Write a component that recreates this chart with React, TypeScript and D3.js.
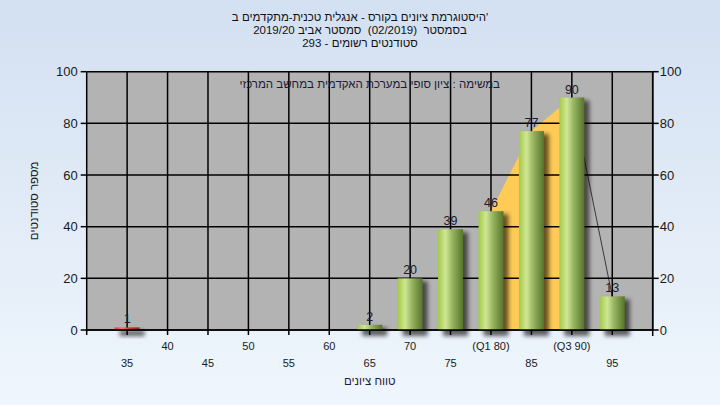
import React from "react";
import * as d3 from "d3";

const categories = [35, 40, 45, 50, 55, 60, 65, 70, 75, 80, 85, 90, 95];
const counts = [1, 0, 0, 0, 0, 0, 2, 20, 39, 46, 77, 90, 13];
const failFlags = [true, false, false, false, false, false, false, false, false, false, false, false, false];
const xTickLabels: Record<number, string> = { 80: "(Q1 80)", 90: "(Q3 90)" };
const yTicks = [0, 20, 40, 60, 80, 100];
const q1 = 80;
const q3 = 90;
const titleLines = [
  "היסטוגרמת ציונים בקורס - אנגלית טכנית-מתקדמים ב'",
  "בסמסטר  (02/2019)  סמסטר אביב 2019/20",
  "סטודנטים רשומים - 293",
];
const subtitle = "במשימה : ציון סופי במערכת האקדמית במחשב המרכזי";
const xTitle = "טווח ציונים";
const yTitle = "מספר סטודנטים";

const W = 720, H = 405;
const L = 86.7, R = 652.7, T = 71.7, B = 330;
const FONT = "'Liberation Sans', Arial, 'DejaVu Sans', sans-serif";

export default function App() {
  const x = d3.scaleLinear().domain([30, 100]).range([L, R]);
  const y = d3.scaleLinear().domain([0, 100]).range([B, T]);
  const bw = 25;
  const gridX = d3.range(30, 101, 5);

  const data = categories.map((c, i) => ({ c, v: counts[i], fail: failFlags[i] }));
  const areaData = data.filter((d) => d.c >= q1 && d.c <= q3);
  const areaGen = d3.area<{ c: number; v: number }>().x((d) => x(d.c)).y0(B).y1((d) => y(d.v));
  const tailData = data.filter((d) => d.c >= q3);
  const lineGen = d3.line<{ c: number; v: number }>().x((d) => x(d.c)).y((d) => y(d.v));

  return (
    <svg width={W} height={H} style={{ position: "absolute", left: 0, top: 0 }} fontFamily={FONT}>
      <defs>
        <linearGradient id="bg" x1="0" y1="0" x2="0" y2="1">
          <stop offset="0" stopColor="#d3e0f1" />
          <stop offset="1" stopColor="#eff6fd" />
        </linearGradient>
        <linearGradient id="green" x1="0" y1="0" x2="1" y2="0">
          <stop offset="0" stopColor="#a3c94a" />
          <stop offset="0.3" stopColor="#cfe795" />
          <stop offset="0.55" stopColor="#9bb866" />
          <stop offset="1" stopColor="#56732a" />
        </linearGradient>
        <linearGradient id="red" x1="0" y1="0" x2="1" y2="0">
          <stop offset="0" stopColor="#f03030" />
          <stop offset="0.3" stopColor="#ff7070" />
          <stop offset="0.6" stopColor="#d03030" />
          <stop offset="1" stopColor="#8a2020" />
        </linearGradient>
        <filter id="blur" x="-50%" y="-50%" width="200%" height="200%">
          <feGaussianBlur stdDeviation="2.2" />
        </filter>
      </defs>
      <rect x={0} y={0} width={W} height={H} fill="url(#bg)" />
      <rect x={L} y={T} width={R - L} height={B - T} fill="#b3b3b3" />

      {/* area behind bars */}
      <path d={areaGen(areaData) || ""} fill="#ffcb57" />
      <path d={lineGen(tailData) || ""} fill="none" stroke="#3a3a3a" strokeWidth={1} />

      {/* grid */}
      {gridX.map((g) => (
        <line key={"gx" + g} x1={x(g)} x2={x(g)} y1={T} y2={B} stroke="#000" strokeWidth={1.5} />
      ))}
      {yTicks.map((t) => (
        <line key={"gy" + t} x1={L} x2={R} y1={y(t)} y2={y(t)} stroke="#000" strokeWidth={1.5} />
      ))}

      {/* shadows */}
      {data.filter((d) => d.v > 0).map((d) => (
        <rect key={"s" + d.c} x={x(d.c) - bw / 2 + 5} y={y(d.v) + 3} width={bw} height={B - y(d.v) + 3}
          fill="#000" opacity={0.6} filter="url(#blur)" />
      ))}
      {/* bars */}
      {data.filter((d) => d.v > 0).map((d) => (
        <rect key={"b" + d.c} x={x(d.c) - bw / 2} y={y(d.v)} width={bw} height={B - y(d.v)}
          fill={d.fail ? "url(#red)" : "url(#green)"} />
      ))}
      {/* value labels */}
      {data.filter((d) => d.v > 0).map((d) => (
        <text key={"v" + d.c} x={x(d.c)} y={y(d.v) - 4} textAnchor="middle" fontSize={12.5} fill="#1c1c2a">{d.v}</text>
      ))}

      {/* axes */}
      <line x1={L} x2={R} y1={B} y2={B} stroke="#000" strokeWidth={1.5} />
      <line x1={R} x2={R} y1={T} y2={B + 6} stroke="#000" strokeWidth={1.5} />
      {gridX.slice(0, -1).map((g) => (
        <line key={"tx" + g} x1={x(g)} x2={x(g)} y1={B} y2={B + 5} stroke="#000" strokeWidth={1.5} />
      ))}
      {yTicks.map((t) => (
        <g key={"yt" + t}>
          <line x1={L - 6} x2={L} y1={y(t)} y2={y(t)} stroke="#000" strokeWidth={1.5} />
          <text x={L - 9} y={y(t) + 4.5} textAnchor="end" fontSize={13} fill="#1a1a1a">{t}</text>
          <line x1={R} x2={R + 6} y1={y(t)} y2={y(t)} stroke="#000" strokeWidth={1.5} />
          <text x={R + 7} y={y(t) + 4.5} textAnchor="start" fontSize={13} fill="#1a1a1a">{t}</text>
        </g>
      ))}
      {categories.map((c, i) => (
        <text key={"xl" + c} x={x(c)} y={i % 2 === 0 ? 367 : 350} textAnchor="middle" fontSize={11} fill="#1a1a1a">
          {xTickLabels[c] ?? String(c)}
        </text>
      ))}

      {/* titles */}
      {titleLines.map((t, i) => (
        <text key={"t" + i} x={W / 2} y={21 + i * 13} textAnchor="middle" fontSize={11.5} fill="#111"
          style={{ whiteSpace: "pre" }}>{t}</text>
      ))}
      <text x={(L + R) / 2} y={88} textAnchor="middle" fontSize={11.5} fill="#1a1a3a">{subtitle}</text>
      <text x={(L + R) / 2} y={385} textAnchor="middle" fontSize={11.5} fill="#2a1a3a">{xTitle}</text>
      <text transform={`translate(38,${(T + B) / 2}) rotate(-90)`} textAnchor="middle" fontSize={11.5} fill="#1a1a1a">{yTitle}</text>
    </svg>
  );
}
